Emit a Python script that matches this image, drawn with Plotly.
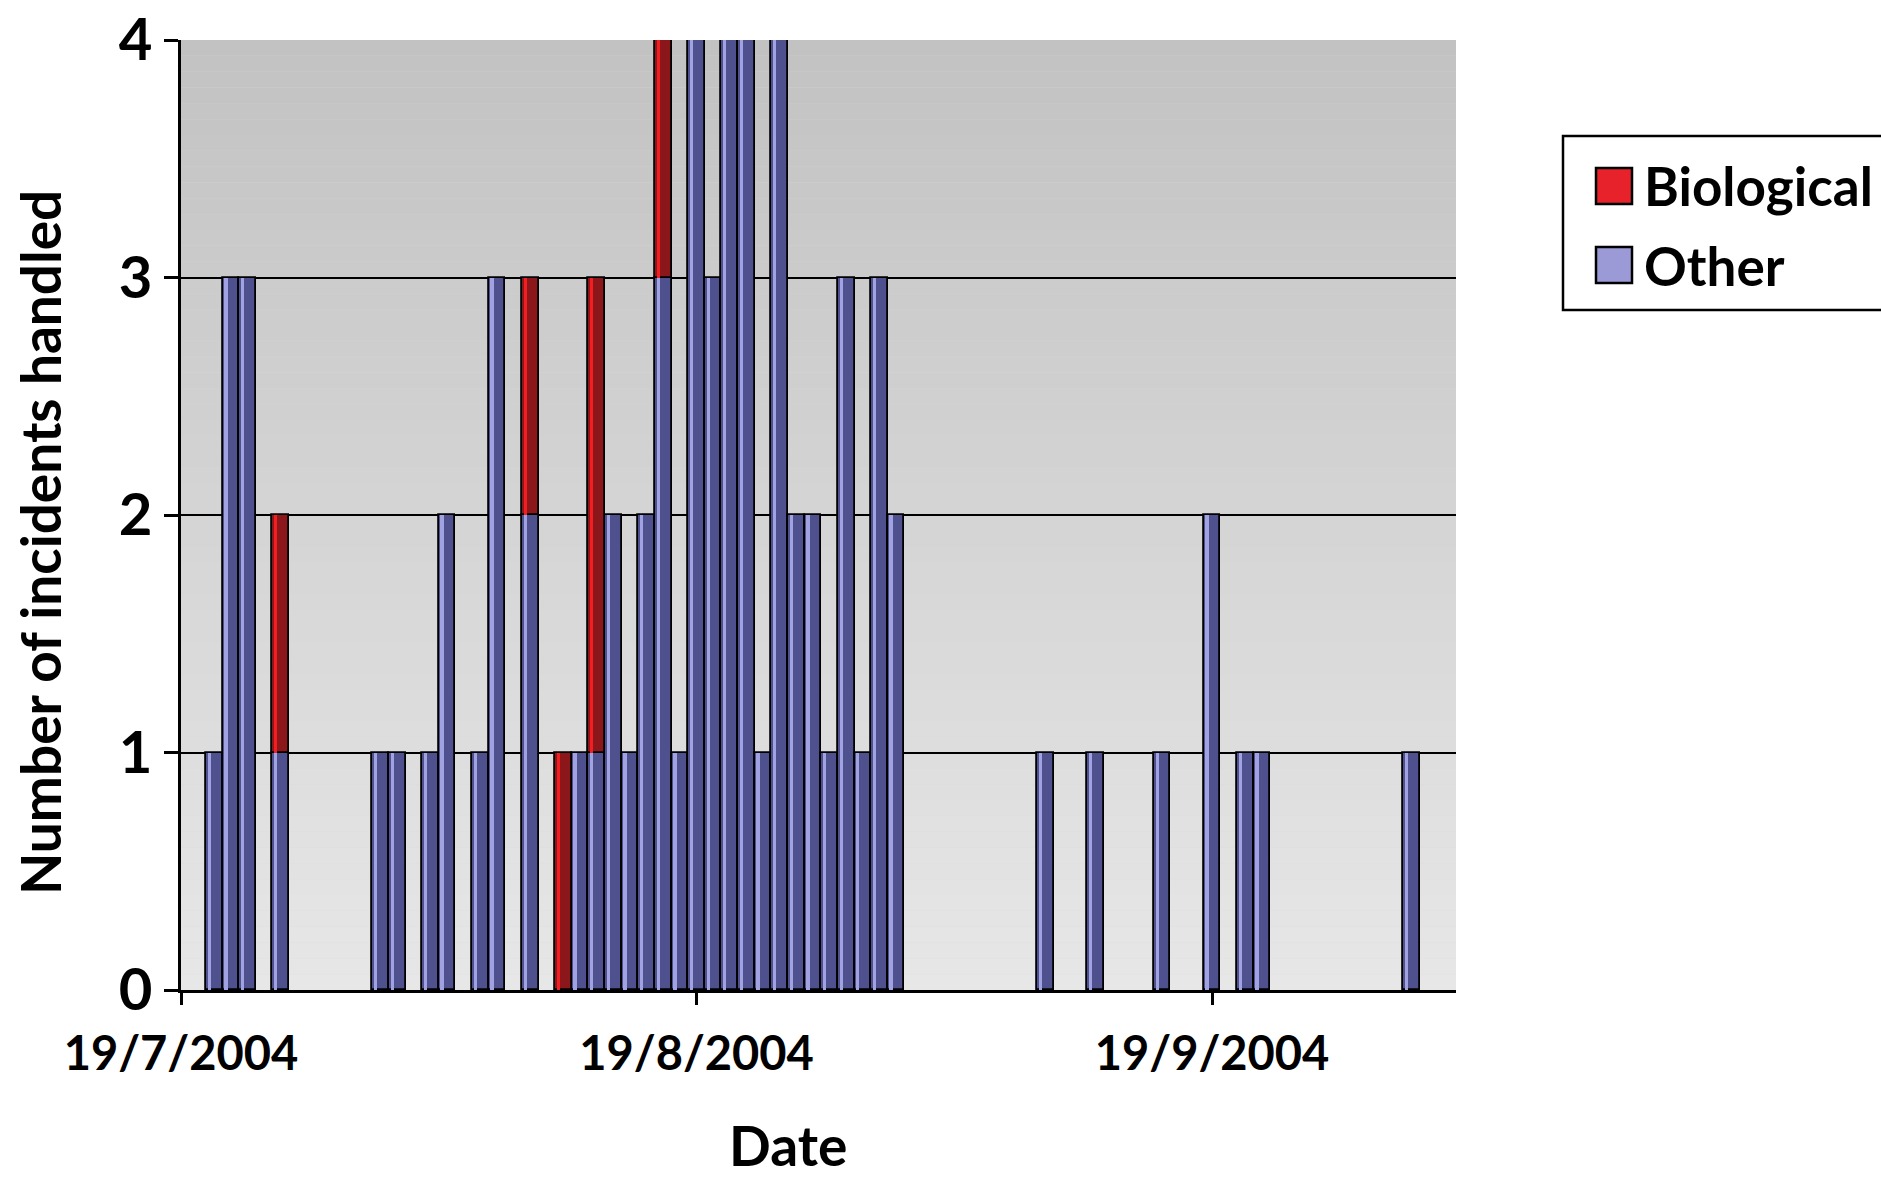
import plotly.graph_objects as go
import datetime as dt

# ---- data ----
dates = ["2004-07-21", "2004-07-22", "2004-07-23", "2004-07-25", "2004-07-31",
         "2004-08-01", "2004-08-03", "2004-08-04", "2004-08-06", "2004-08-07",
         "2004-08-09", "2004-08-11", "2004-08-12", "2004-08-13", "2004-08-14",
         "2004-08-15", "2004-08-16", "2004-08-17", "2004-08-18", "2004-08-19",
         "2004-08-20", "2004-08-21", "2004-08-22", "2004-08-23", "2004-08-24",
         "2004-08-25", "2004-08-26", "2004-08-27", "2004-08-28", "2004-08-29",
         "2004-08-30", "2004-08-31", "2004-09-09", "2004-09-12", "2004-09-16",
         "2004-09-19", "2004-09-21", "2004-09-22", "2004-10-01"]
other = [1, 3, 3, 1, 1, 1, 1, 2, 1, 3, 2, 0, 1, 1, 2, 1, 2, 3, 1, 4,
         3, 4, 4, 1, 4, 2, 2, 1, 3, 1, 3, 2, 1, 1, 1, 2, 1, 1, 1]
biological = [0, 0, 0, 1, 0, 0, 0, 0, 0, 0, 1, 1, 0, 2, 0, 0, 0, 1, 0, 0,
              0, 0, 0, 0, 0, 0, 0, 0, 0, 0, 0, 0, 0, 0, 0, 0, 0, 0, 0]
series_names = ["Biological", "Other"]
tick_dates = ["2004-07-19", "2004-08-19", "2004-09-19"]
tick_labels = ["19/7/2004", "19/8/2004", "19/9/2004"]
y_ticks = [0, 1, 2, 3, 4]
x_title = "Date"
y_title = "Number of incidents handled"

# ---- styles ----
DAY = 86400000
FONT = "Lato"
BLUE_DARK = "#4f518e"
BLUE_LIGHT = "#a0a2e2"
RED_DARK = "#8c171b"
RED_LIGHT = "#f21e22"
LEG_RED = "#e8222a"
LEG_BLUE = "#9c9ad6"

W, H = 1881, 1179
L, R, T, B = 181, 1456, 40, 990


def px_x(p):
    return (p - L) / (R - L)


def px_y(p):
    return (B - p) / (B - T)


other_y = [v if v > 0 else None for v in other]
bio_y = [v if v > 0 else None for v in biological]
bio_base = other

fig = go.Figure()
fig.add_trace(go.Bar(x=dates, y=other_y, base=0, width=DAY, name="Other",
                     marker=dict(color=BLUE_DARK, line=dict(color="black", width=1.8)),
                     showlegend=False))
fig.add_trace(go.Bar(x=dates, y=bio_y, base=bio_base, width=DAY, name="Biological",
                     marker=dict(color=RED_DARK, line=dict(color="black", width=1.8)),
                     showlegend=False))
fig.add_trace(go.Bar(x=dates, y=other_y, base=0, width=0.2 * DAY, offset=-0.4 * DAY,
                     marker=dict(color=BLUE_LIGHT, line=dict(width=0)),
                     showlegend=False, hoverinfo="skip"))
fig.add_trace(go.Bar(x=dates, y=bio_y, base=bio_base, width=0.2 * DAY, offset=-0.4 * DAY,
                     marker=dict(color=RED_LIGHT, line=dict(width=0)),
                     showlegend=False, hoverinfo="skip"))

# background gradient
shapes = []
N = 60
top = (0xc2, 0xc2, 0xc2)
bot = (0xe7, 0xe7, 0xe7)
for i in range(N):
    f = (i + 0.5) / N
    c = tuple(int(round(bot[k] + (top[k] - bot[k]) * f)) for k in range(3))
    shapes.append(dict(type="rect", xref="paper", yref="paper",
                       x0=0, x1=1, y0=i / N, y1=(i + 1) / N,
                       fillcolor="rgb(%d,%d,%d)" % c, line=dict(width=0), layer="below"))

# custom legend (right border lies beyond the page edge, as in the reference)
shapes.append(dict(type="rect", xref="paper", yref="paper",
                   x0=px_x(1563), x1=px_x(1960), y0=px_y(310), y1=px_y(136),
                   fillcolor="white", line=dict(color="black", width=2.5)))
leg_colors = [LEG_RED, LEG_BLUE]
leg_centers = [186, 265]
annotations = []
for name, col, cy in zip(series_names, leg_colors, leg_centers):
    shapes.append(dict(type="rect", xref="paper", yref="paper",
                       x0=px_x(1596), x1=px_x(1632), y0=px_y(cy + 18), y1=px_y(cy - 18),
                       fillcolor=col, line=dict(color="black", width=2.5)))
    annotations.append(dict(x=px_x(1642), y=px_y(cy), xref="paper", yref="paper",
                            text="<b>%s</b>" % name, showarrow=False,
                            xanchor="left", yanchor="middle",
                            font=dict(family=FONT, size=53, color="black")))

# axis titles (placed as in the reference)
annotations.append(dict(x=px_x(788), y=px_y(1145), xref="paper", yref="paper",
                        text="<b>%s</b>" % x_title, showarrow=False,
                        xanchor="center", yanchor="middle",
                        font=dict(family=FONT, size=55, color="black")))
annotations.append(dict(x=px_x(40), y=px_y(543), xref="paper", yref="paper",
                        text="<b>%s</b>" % y_title, showarrow=False, textangle=-90,
                        xanchor="center", yanchor="middle",
                        font=dict(family=FONT, size=55, color="black")))

start = dt.datetime(2004, 7, 19)
end = start + dt.timedelta(days=76.67)

fig.update_layout(
    width=W, height=H,
    margin=dict(l=L, r=W - R, t=T, b=H - B, autoexpand=False),
    paper_bgcolor="white",
    plot_bgcolor="#d8d8d8",
    barmode="overlay",
    bargap=0,
    shapes=shapes,
    annotations=annotations,
    showlegend=False,
    font=dict(family=FONT, color="black"),
)
fig.update_xaxes(
    type="date", range=[start, end],
    tickvals=tick_dates, ticktext=tick_labels,
    tickfont=dict(family=FONT, size=47, color="black", weight="bold"),
    ticks="outside", ticklen=12, tickwidth=2.5, tickcolor="black",
    ticklabelstandoff=9,
    ticklabeloverflow="allow",
    showline=True, linecolor="black", linewidth=3,
    showgrid=False, zeroline=False,
    automargin=False,
)
fig.update_yaxes(
    range=[0, 4], tickvals=y_ticks,
    tickfont=dict(family=FONT, size=58, color="black", weight="bold"),
    ticks="outside", ticklen=14, tickwidth=2.5, tickcolor="black",
    ticklabelstandoff=0,
    ticklabeloverflow="allow",
    showline=True, linecolor="black", linewidth=3,
    showgrid=True, gridcolor="black", gridwidth=2.2,
    zeroline=False,
    automargin=False,
)

fig.write_html("out.html",
               config={"displayModeBar": False},
               post_script="document.body.style.margin='0';document.body.style.overflow='hidden';")
